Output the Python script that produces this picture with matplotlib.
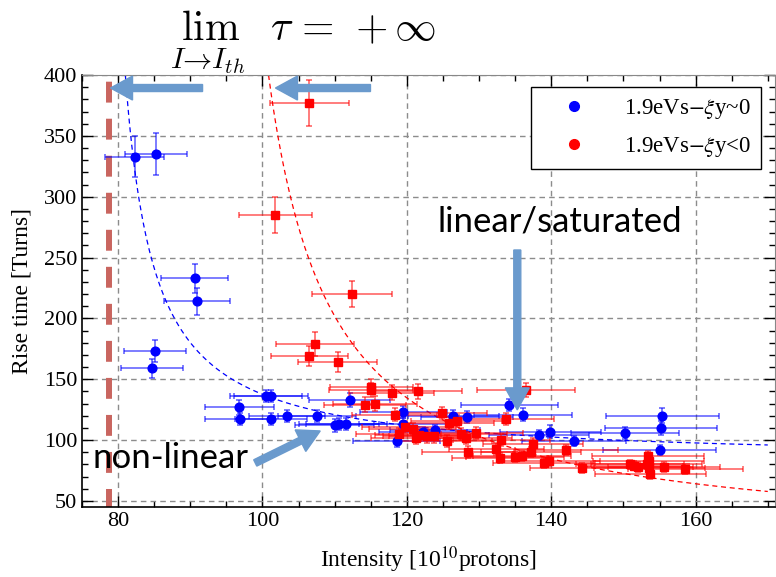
import numpy as np
import matplotlib.pyplot as plt
from matplotlib.lines import Line2D
from matplotlib.patches import FancyArrow
from matplotlib.transforms import IdentityTransform
from matplotlib.ticker import MultipleLocator

plt.rcParams['font.family'] = ['Liberation Serif', 'DejaVu Serif']
plt.rcParams['mathtext.fontset'] = 'stix'

# 1.9eVs, xi_y ~ 0 (blue circles)
blue_I = [82.3, 85.2, 90.6, 90.9, 85.1, 84.7, 96.8, 96.9, 100.5, 101.2, 101.2,
          103.4, 107.5, 110.0, 110.6, 111.6, 112.1, 118.6, 119.4, 119.5, 122.3,
          123.9, 126.4, 128.3, 134.2, 136.1, 138.3, 139.9, 143.1, 150.2, 155.4,
          155.2, 155.0]
blue_tau = [333, 335, 233, 214, 173, 159, 127, 117, 136, 136, 117,
            120, 120, 112, 113, 113, 133, 99, 113, 123, 107,
            108, 120, 119, 129, 121, 104, 107, 99, 106, 120,
            110, 92]
blue_dI = [4.1, 4.3, 4.6, 4.6, 4.3, 4.3, 4.8, 4.8, 5.0, 5.1, 5.0,
           5.2, 5.4, 5.5, 5.5, 5.6, 5.6, 6.0, 6.0, 6.0, 6.1,
           6.2, 6.3, 6.4, 6.7, 6.8, 6.9, 7.0, 7.2, 7.5, 7.8,
           7.8, 7.8]
blue_dtau = [17, 17, 12, 11, 9, 8, 6, 5, 5, 5, 5,
             5, 5, 5, 5, 5, 6, 5, 5, 5, 4,
             4, 5, 5, 5, 5, 4, 5, 4, 5, 6,
             6, 4]

# 1.9eVs, xi_y < 0 (red squares)
red_I = [106.5, 101.8, 112.4, 107.3, 106.5, 110.4, 115.0, 115.1, 114.2, 115.6,
         117.9, 121.6, 118.3, 118.9, 119.8, 120.8, 121.2, 121.7, 122.8, 123.7,
         124.9, 125.5, 125.8, 126.9, 127.5, 128.2, 128.5, 129.6, 132.4, 132.9,
         133.1, 133.7, 135.0, 135.9, 136.5, 137.5, 137.2, 139.0, 139.7, 142.1,
         144.2, 150.9, 151.5, 152.0, 153.2, 153.5, 153.6, 153.7, 153.4, 155.6,
         158.6]
red_tau = [377, 285, 220, 179, 169, 164, 141, 144, 129, 130,
           139, 140, 121, 105, 111, 109, 102, 104, 103, 103,
           122, 99, 114, 116, 105, 102, 90, 106, 93, 85,
           100, 117, 86, 87, 141, 97, 90, 81, 83, 92,
           77, 80, 79, 78, 80, 83, 77, 72, 87, 78,
           76]
red_dI = [5.5, 5.1, 5.6, 5.4, 5.3, 5.5, 5.8, 5.8, 5.7, 5.8,
          5.9, 6.1, 5.9, 5.9, 6.0, 6.0, 6.1, 6.1, 6.1, 6.2,
          6.2, 6.3, 6.3, 6.3, 6.4, 6.4, 6.4, 6.5, 6.6, 6.6,
          6.7, 6.7, 6.8, 6.8, 6.8, 6.9, 6.9, 7.0, 7.0, 7.1,
          7.2, 7.5, 7.6, 7.6, 7.7, 7.7, 7.7, 7.7, 7.7, 7.8,
          7.9]
red_dtau = [19, 15, 11, 10, 8, 8, 6, 6, 6, 6,
            6, 6, 5, 5, 5, 5, 5, 5, 5, 5,
            5, 5, 5, 5, 5, 5, 5, 5, 5, 4,
            5, 5, 4, 4, 6, 5, 4, 4, 4, 4,
            4, 4, 4, 4, 4, 4, 4, 4, 4, 4,
            4]

# fit curves tau = c + a / (I - i0)
blue_fit = (82.3, 1272.0, 77.0)
red_fit = (15.0, 3327.0, 92.2)
I_end = 170.0

# threshold intensity
I_th = 78.8

labels = [r'1.9eVs$-\xi$y~0', r'1.9eVs$-\xi$y<0']

arrow_col = '#6a9acd'
# (tail, tip) in data coords
arrows = [((91.7, 389.3), (78.95, 389.3)),
          ((114.96, 389.3), (101.8, 389.3)),
          ((135.3, 256.2), (135.3, 124.8)),
          ((99.0, 81.2), (108.0, 107.5))]

fig = plt.figure(figsize=(7.76, 5.77), dpi=100)
ax = fig.add_axes([82 / 776, 70 / 577, 693 / 776, 432 / 577])
ax.set_xlim(75, 171)
ax.set_ylim(45, 400)

ax.grid(True, which='major', color='#8c8c8c', linestyle=(0, (4, 3)), lw=1)
ax.set_axisbelow(True)

# fit curves
for (c, a, i0), col in [(blue_fit, 'blue'), (red_fit, 'red')]:
    start = i0 + a / (400 - c)
    xs = np.linspace(start, I_end, 400)
    ax.plot(xs, c + a / (xs - i0), color=col, lw=0.9, linestyle=(0, (4, 3)), zorder=2)

# threshold line
ax.plot([I_th, I_th], [400, 45], color='#c9655f', lw=4.3,
        linestyle=(5.08, (3.5, 2.7)), dash_capstyle='butt', zorder=2)

ax.errorbar(blue_I, blue_tau, xerr=blue_dI, yerr=blue_dtau, fmt='o', color='blue',
            ms=6.3, ecolor=(0, 0, 1, 0.65), elinewidth=1.1, capsize=2.5, capthick=1.1, zorder=3)
ax.errorbar(red_I, red_tau, xerr=red_dI, yerr=red_dtau, fmt='s', color='red',
            ms=5.6, ecolor=(1, 0, 0, 0.65), elinewidth=1.1, capsize=2.5, capthick=1.1, zorder=3)

ax.xaxis.set_major_locator(MultipleLocator(20))
ax.xaxis.set_minor_locator(MultipleLocator(5))
ax.yaxis.set_major_locator(MultipleLocator(50))
ax.yaxis.set_minor_locator(MultipleLocator(10))
ax.tick_params(which='both', direction='in', top=True, right=True, labelsize=16, width=1)
ax.tick_params(which='major', length=8)
ax.tick_params(which='minor', length=4)
for s in ['left', 'bottom']:
    ax.spines[s].set_color('black')
    ax.spines[s].set_linewidth(1.2)
for s in ['top', 'right']:
    ax.spines[s].set_color('#888888')

ax.set_xlabel(r'Intensity [10$^{10}$protons]', fontsize=17, labelpad=10)
ax.set_ylabel('Rise time [Turns]', fontsize=17, labelpad=8)

handles = [Line2D([], [], marker='o', ls='none', color='blue', ms=7),
           Line2D([], [], marker='o', ls='none', color='red', ms=7)]
leg = ax.legend(handles, labels, loc='upper right', bbox_to_anchor=(0.98, 0.972),
                fontsize=16.5, fancybox=False, edgecolor='black', framealpha=1,
                borderpad=0.45, handlelength=2.9, handletextpad=0.7, labelspacing=0.6,
                borderaxespad=0)
leg.get_frame().set_linewidth(1.0)

fig.text(170 / 776, 1 - 8 / 577, r'$\lim_{I\to I_{th}}\;\;\tau\,=\,+\infty$', fontsize=30,
         math_fontfamily='cm', ha='left', va='top')

ax.text(141.2, 271.0, 'linear/saturated', family='Lato', fontsize=25, ha='center', va='baseline', zorder=5)
ax.text(76.5, 77.1, 'non-linear', family='Lato', fontsize=25, ha='left', va='baseline', zorder=5)

for tail, tip in arrows:
    p0 = ax.transData.transform(tail)
    p1 = ax.transData.transform(tip)
    d = p1 - p0
    fig.add_artist(FancyArrow(p0[0], p0[1], d[0], d[1], width=7, head_width=24,
                              head_length=22, length_includes_head=True,
                              transform=IdentityTransform(), color=arrow_col, zorder=6))

fig.savefig('out.png', dpi=100)
